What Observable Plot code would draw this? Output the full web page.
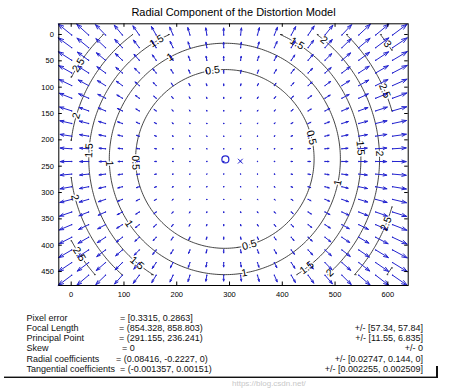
<!DOCTYPE html>
<html><head><meta charset="utf-8">
<script src="https://cdn.jsdelivr.net/npm/d3@7"></script>
<script src="https://cdn.jsdelivr.net/npm/@observablehq/plot@0.6"></script>
<style>
body{margin:0;background:#fff;}
#wrap{position:relative;width:452px;height:388px;overflow:hidden;background:#fff;font-family:"Liberation Sans",Arial,sans-serif;}
#chart{position:absolute;left:0;top:0;}
.info{position:absolute;font-size:9px;line-height:10px;white-space:pre;color:#111;}
.wm{position:absolute;font-size:8px;line-height:9px;color:#c8c8c8;white-space:pre;}
</style></head><body>
<div id="wrap"><div id="chart"></div><div class="wm" style="left:232px;top:378.5px;">https://blog.csdn.net/</div></div>
<script>
// ---- data ----
const chartTitle = "Radial Component of the Distortion Model";
const imageSize = [640, 480];
const gridStep = [32, 24];
const focalLength = [854.328, 858.803];
const principalPoint = [291.155, 236.241];
const skew = 0;
const radialCoeffs = [0.08416, -0.2227, 0];
const contourLevels = [0.5, 1, 1.5, 2, 2.5, 3];
const xTicks = [0, 100, 200, 300, 400, 500, 600];
const yTicks = [0, 50, 100, 150, 200, 250, 300, 350, 400, 450];
// contour label levels and approximate anchors (image pixels)
const labelLevels = [1.5, 2.5, 1, 0.5, 2, 1.5, 1, 0.5, 1.5, 2, 3, 2.5, 0.5, 1.5, 2, 1, 2, 2.5, 1.5, 1, 0.5, 1, 1.5, 2, 2.5];
const labelX = [163, 12, 188, 268, 8, 29, 74, 128, 429, 480, 601, 596, 453, 554, 586, 503, 8, 20, 124, 109, 338, 328, 446, 490, 596];
const labelY = [15, 57, 44, 70, 154, 220, 245, 243, 15, 9, 17, 106, 196, 215, 226, 281, 309, 414, 435, 359, 401, 452, 442, 452, 359];
// parameter listing below the plot
const infoNames = ["Pixel error", "Focal Length", "Principal Point", "Skew", "Radial coefficients", "Tangential coefficients"];
const infoValues = ["= [0.3315, 0.2863]", "= (854.328, 858.803)", "= (291.155, 236.241)", "= 0", "= (0.08416, -0.2227, 0)", "= (-0.001357, 0.00151)"];
const infoErrors = ["", "+/- [57.34, 57.84]", "+/- [11.55, 6.835]", "+/- 0", "+/- [0.02747, 0.144, 0]", "+/- [0.002255, 0.002509]"];

// ---- radial distortion model (from the printed coefficients) ----
const [k1, k2, k3] = radialCoeffs;
function shift(px, py) {
  const yn = (py - principalPoint[1]) / focalLength[1];
  const xn = (px - principalPoint[0]) / focalLength[0] - skew * yn;
  const r2 = xn * xn + yn * yn;
  const k = k1 * r2 + k2 * r2 * r2 + k3 * r2 * r2 * r2;
  return [focalLength[0] * (xn * k + skew * yn * k), focalLength[1] * yn * k];
}
const gx = d3.range(0, imageSize[0], gridStep[0]);
const gy = d3.range(0, imageSize[1], gridStep[1]);
const raw = [];
for (const y of gy) for (const x of gx) { const [u, v] = shift(x, y); raw.push({x: x + 1, y: y + 1, u, v}); }
// quiver autoscale
const nq = Math.sqrt(raw.length);
const delx = (d3.max(raw, d => d.x) - d3.min(raw, d => d.x)) / nq;
const dely = (d3.max(raw, d => d.y) - d3.min(raw, d => d.y)) / nq;
const del = delx * delx + dely * dely;
const maxlen = d3.max(raw, d => Math.sqrt((d.u * d.u + d.v * d.v) / del));
const sc = 0.9 / maxlen;
const arrows = raw.map(d => ({...d, x2: d.x + sc * d.u, y2: d.y + sc * d.v}));

// contour field on the grid extent
const cs = 4;
const xmax = gx[gx.length - 1], ymax = gy[gy.length - 1];
const cxs = d3.range(0, xmax + cs / 2, cs), cys = d3.range(0, ymax + cs / 2, cs);
const nx = cxs.length, ny = cys.length;
const vals = new Float64Array(nx * ny);
for (let j = 0; j < ny; ++j) for (let i = 0; i < nx; ++i) { const [u, v] = shift(cxs[i], cys[j]); vals[j * nx + i] = Math.hypot(u, v); }
const conts = d3.contours().size([nx, ny]).thresholds(contourLevels)(vals);
const onB = p => p[0] <= 0 || p[0] >= nx || p[1] <= 0 || p[1] >= ny;
const toD = p => [Math.max(0, Math.min(xmax, (p[0] - 0.5) * cs)), Math.max(0, Math.min(ymax, (p[1] - 0.5) * cs))];
const contourRows = [];
let pid = 0;
for (const c of conts) for (const poly of c.coordinates) for (const ring of poly) {
  let cur = [];
  const flush = () => { if (cur.length > 1) { pid++; for (const p of cur) { const [x, y] = toD(p); contourRows.push({x, y, id: pid}); } } cur = []; };
  for (let k = 0; k < ring.length - 1; ++k) {
    const a = ring[k], b = ring[k + 1];
    if (onB(a) && onB(b)) { flush(); continue; }
    if (cur.length === 0) cur.push(a);
    cur.push(b);
  }
  flush();
}

// contour labels snapped onto their level
const cx0 = principalPoint[0], cy0 = principalPoint[1];
const drAt = (x, y) => { const [u, v] = shift(x, y); return Math.hypot(u, v); };
const labels = labelLevels.map((L, i) => {
  const vx = labelX[i] - cx0, vy = labelY[i] - cy0;
  let lo = 0.2, hi = 2;
  for (let it = 0; it < 50; ++it) { const m = (lo + hi) / 2; if (drAt(cx0 + m * vx, cy0 + m * vy) < L) lo = m; else hi = m; }
  const t = (lo + hi) / 2;
  const x = cx0 + t * vx, y = cy0 + t * vy;
  const gxx = (x - cx0) / (focalLength[0] ** 2), gyy = (y - cy0) / (focalLength[1] ** 2);
  let ang = Math.atan2(gxx, -gyy) * 180 / Math.PI;
  if (ang > 90) ang -= 180; if (ang <= -90) ang += 180;
  return {x, y, text: String(L), rotate: ang};
});

const blue = "#2323cf";
const W = 452, H = 305, mL = 58.3, mR = 44.3, mT = 23.3, mB = 20;
const fw = W - mL - mR, fh = H - mT - mB;
const tickStyle = {stroke: "black", strokeWidth: 1};
const plot = Plot.plot({
  width: W, height: H, marginLeft: mL, marginRight: mR, marginTop: mT, marginBottom: mB,
  x: {domain: [-23.5, 638.6]},
  y: {domain: [-20.3, 476.5], reverse: true},
  style: {fontFamily: "'Liberation Sans', Arial, sans-serif", fontSize: "7.5px", color: "black", background: "white", overflow: "visible"},
  marks: [
    Plot.line(contourRows, {x: "x", y: "y", z: "id", stroke: "#151515", strokeWidth: 0.8}),
    Plot.text(labels, {x: "x", y: "y", text: "text", rotate: "rotate", fontSize: 10.5, fill: "white", stroke: "white", strokeWidth: 3}),
    Plot.dot(arrows, {x: "x", y: "y", r: 0.7, fill: blue}),
    Plot.arrow(arrows, {x1: "x", y1: "y", x2: "x2", y2: "y2", stroke: blue, strokeWidth: 1, headAngle: 37, headLength: 60}),
    Plot.dot([principalPoint], {x: d => d[0] + 1, y: d => d[1] + 1, r: 3.5, stroke: blue, strokeWidth: 1.2, fill: "none"}),
    Plot.dot([imageSize], {x: d => (d[0] - 1) / 2 + 1, y: d => (d[1] - 1) / 2 + 1, symbol: "times", r: 2.3, stroke: blue, strokeWidth: 1}),
    Plot.text(labels, {x: "x", y: "y", text: "text", rotate: "rotate", fontSize: 10.5, fill: "black"}),
    Plot.frame({stroke: "black"}),
    Plot.axisX(xTicks, {anchor: "bottom", tickSize: 0, tickPadding: 6, label: null}),
    Plot.axisY(yTicks, {anchor: "left", tickSize: 0, tickPadding: 5, label: null}),
    Plot.tickX(xTicks, {x: d => d, insetTop: fh - 3.5, ...tickStyle}),
    Plot.tickX(xTicks, {x: d => d, insetBottom: fh - 3.5, ...tickStyle}),
    Plot.tickY(yTicks, {y: d => d, insetRight: fw - 3.5, ...tickStyle}),
    Plot.tickY(yTicks, {y: d => d, insetLeft: fw - 3.5, ...tickStyle}),
    Plot.text([chartTitle], {frameAnchor: "top", lineAnchor: "middle", dy: -11.8, fontSize: 11, fill: "black"})
  ]
});
document.getElementById("chart").appendChild(plot);

// parameter listing
const wrap = document.getElementById("wrap");
const valueX = [120, 119, 119, 122, 116, 120];
infoNames.forEach((name, i) => {
  const top = 317.5 + i * 10.3 - 5;
  const a = document.createElement("div"); a.className = "info"; a.style.left = "26.5px"; a.style.top = top + "px"; a.textContent = name; wrap.appendChild(a);
  const b = document.createElement("div"); b.className = "info"; b.style.left = valueX[i] + "px"; b.style.top = top + "px"; b.textContent = infoValues[i]; wrap.appendChild(b);
  if (infoErrors[i]) { const c = document.createElement("div"); c.className = "info"; c.style.right = "29px"; c.style.textAlign = "right"; c.style.top = top + "px"; c.textContent = infoErrors[i]; wrap.appendChild(c); }
});
const ln = document.createElement("div");
ln.style.cssText = "position:absolute;left:4px;top:375.5px;width:433px;height:0;border-top:1px solid #999;border-bottom:1.5px solid #111;";
wrap.appendChild(ln);
const vb = document.createElement("div");
vb.style.cssText = "position:absolute;left:435.5px;top:366px;width:2px;height:12px;background:#111;";
wrap.appendChild(vb);
</script>
</body></html>
